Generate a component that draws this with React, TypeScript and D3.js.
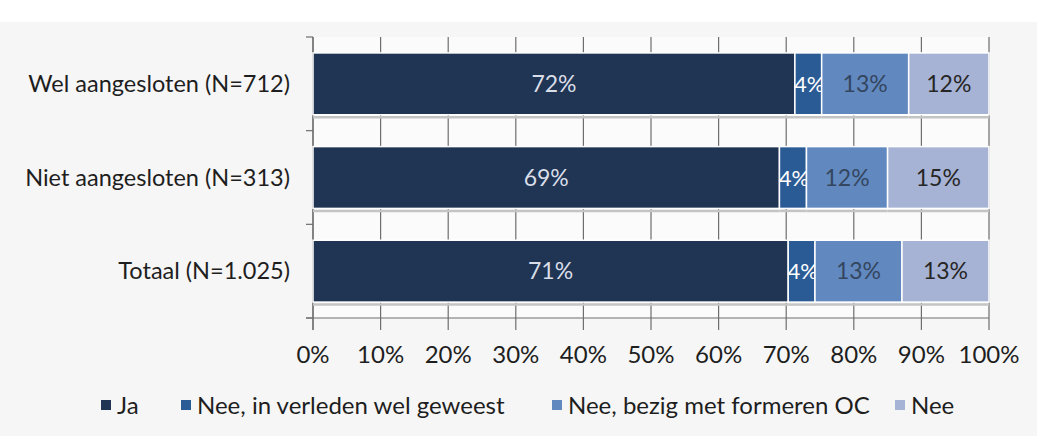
import React, { useEffect, useRef } from 'react';
import * as d3 from 'd3';

const categories = ['Wel aangesloten (N=712)', 'Niet aangesloten (N=313)', 'Totaal (N=1.025)'];
const seriesNames = ['Ja', 'Nee, in verleden wel geweest', 'Nee, bezig met formeren OC', 'Nee'];
const ja = [72, 69, 71];
const verleden = [4, 4, 4];
const formeren = [13, 12, 13];
const nee = [12, 15, 13];
const tickValues = [0, 10, 20, 30, 40, 50, 60, 70, 80, 90, 100];

const colors = ['#203453', '#2a5b95', '#6189c0', '#a7b3d4'];
const labelColors = ['#d9dee8', '#ffffff', '#34465f', '#262626'];

export default function App() {
  const svgRef = useRef<SVGSVGElement>(null);

  useEffect(() => {
    if (!svgRef.current) return;
    const svg = d3.select(svgRef.current);
    svg.selectAll('*').remove();

    const width = 1037;
    const height = 436;
    const margin = { top: 37, left: 313, right: 48, bottom: 118 };
    const font = 'Lato, "Open Sans", sans-serif';

    svg.append('rect').attr('width', width).attr('height', height).attr('fill', '#f6f6f6');
    svg.append('rect').attr('x', 0).attr('y', 0).attr('width', width).attr('height', 22).attr('fill', '#ffffff');

    const x = d3.scaleLinear().domain([0, 100]).range([margin.left, width - margin.right]);
    const y = d3.scaleBand().domain(categories).range([margin.top, height - margin.bottom]).paddingInner(0.34).paddingOuter(0.17);

    const series = [ja, verleden, formeren, nee];
    const rows = categories.map((c, i) => {
      const vals = series.map(s => s[i]);
      const total = d3.sum(vals);
      let acc = 0;
      return vals.map((v, k) => {
        const x0 = (acc / total) * 100;
        acc += v;
        const x1 = (acc / total) * 100;
        return { cat: c, k, v, x0, x1 };
      });
    });

    // plot background
    svg.append('rect')
      .attr('x', x(0)).attr('y', margin.top)
      .attr('width', x(100) - x(0)).attr('height', height - margin.bottom - margin.top)
      .attr('fill', '#fbfbfb');

    // vertical gridlines
    svg.append('g').selectAll('line').data(tickValues).enter().append('line')
      .attr('x1', d => x(d)).attr('x2', d => x(d))
      .attr('y1', margin.top).attr('y2', height - margin.bottom + 12)
      .attr('stroke', '#6e6e6e').attr('stroke-width', 1.2);

    // y axis line with band ticks
    const yAxisG = svg.append('g');
    yAxisG.append('line')
      .attr('x1', x(0)).attr('x2', x(0))
      .attr('y1', margin.top).attr('y2', height - margin.bottom + 12)
      .attr('stroke', '#6e6e6e').attr('stroke-width', 1.2);
    const bandEdges = [margin.top, ...categories.map((c, i) => (y(c) as number) + y.bandwidth() + y.step() * y.paddingInner() / 2).slice(0, 2), height - margin.bottom];
    yAxisG.selectAll('.yt').data(bandEdges).enter().append('line')
      .attr('x1', x(0) - 7).attr('x2', x(0))
      .attr('y1', d => d).attr('y2', d => d)
      .attr('stroke', '#6e6e6e').attr('stroke-width', 1.2);

    // x axis
    svg.append('line')
      .attr('x1', x(0) - 7).attr('x2', x(100))
      .attr('y1', height - margin.bottom).attr('y2', height - margin.bottom)
      .attr('stroke', '#6e6e6e').attr('stroke-width', 1.2);

    svg.append('g').selectAll('text').data(tickValues).enter().append('text')
      .attr('x', d => x(d)).attr('y', height - margin.bottom + 45)
      .attr('text-anchor', 'middle')
      .attr('font-family', font).attr('font-size', 24).attr('fill', '#1e1e1e')
      .text(d => `${d}%`);

    // bars
    const barG = svg.append('g');
    rows.forEach(row => {
      row.forEach(seg => {
        barG.append('rect')
          .attr('x', x(seg.x0)).attr('y', y(seg.cat) as number)
          .attr('width', x(seg.x1) - x(seg.x0)).attr('height', y.bandwidth())
          .attr('fill', colors[seg.k])
          .attr('stroke', '#ffffff').attr('stroke-width', 1.5);
        barG.append('line')
          .attr('x1', x(seg.x0)).attr('x2', x(seg.x1))
          .attr('y1', (y(seg.cat) as number) + y.bandwidth() + 2.5)
          .attr('y2', (y(seg.cat) as number) + y.bandwidth() + 2.5)
          .attr('stroke', '#c4c4c4').attr('stroke-width', 2.5);
        barG.append('text')
          .attr('x', (x(seg.x0) + x(seg.x1)) / 2 + (seg.k === 1 ? 1 : 0))
          .attr('y', (y(seg.cat) as number) + y.bandwidth() / 2 + 8)
          .attr('text-anchor', 'middle')
          .attr('font-family', font).attr('font-size', seg.k === 1 ? 22 : 23)
          .attr('fill', labelColors[seg.k])
          .text(`${seg.v}%`);
      });
    });

    // category labels
    svg.append('g').selectAll('text').data(categories).enter().append('text')
      .attr('x', 290).attr('y', d => (y(d) as number) + y.bandwidth() / 2 + 8)
      .attr('text-anchor', 'end')
      .attr('font-family', font).attr('font-size', 23.5).attr('fill', '#1e1e1e')
      .text(d => d);

    // legend
    const legendX = [101, 181, 552, 895];
    const legend = svg.append('g');
    seriesNames.forEach((name, i) => {
      legend.append('rect')
        .attr('x', legendX[i]).attr('y', 400).attr('width', 10).attr('height', 10)
        .attr('fill', colors[i]);
      legend.append('text')
        .attr('x', legendX[i] + 16).attr('y', 414)
        .attr('font-family', font).attr('font-size', 24).attr('fill', '#1e1e1e')
        .text(name);
    });
  }, []);

  return (
    <svg ref={svgRef} width={1037} height={436} style={{ position: 'absolute', left: 0, top: 0, display: 'block' }} />
  );
}
